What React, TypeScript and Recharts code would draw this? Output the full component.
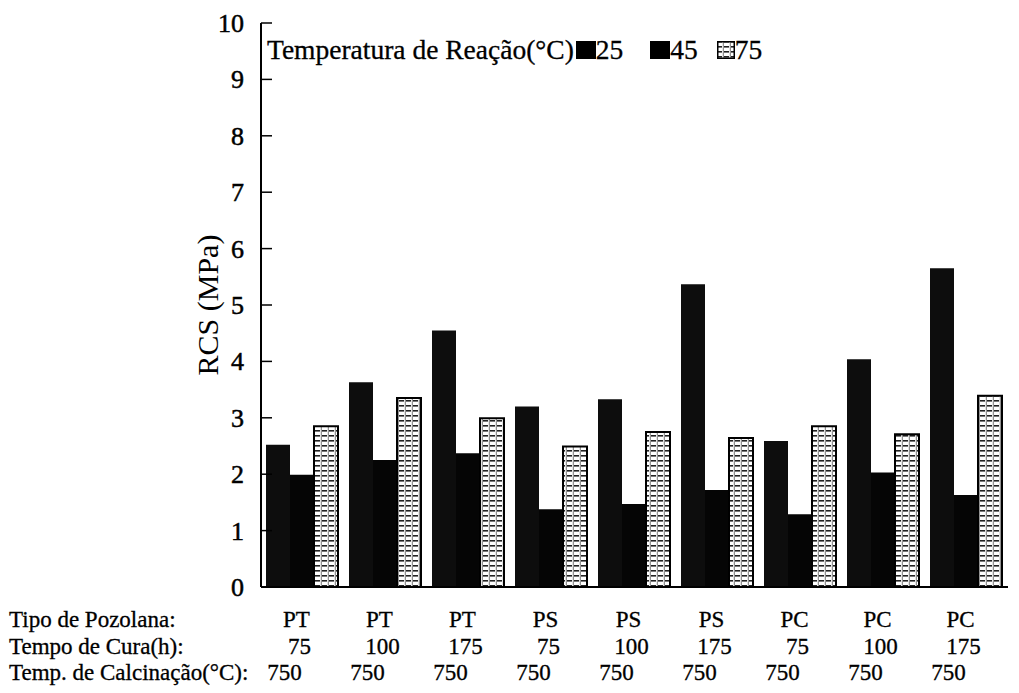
import React from 'react';
import { BarChart, Bar, XAxis, YAxis } from 'recharts';

const pozolanaTypes = ['PT', 'PT', 'PT', 'PS', 'PS', 'PS', 'PC', 'PC', 'PC'];
const cureTimes = ['75', '100', '175', '75', '100', '175', '75', '100', '175'];
const calcTemps = ['750', '750', '750', '750', '750', '750', '750', '750', '750'];
const rcs25 = [2.52, 3.63, 4.55, 3.2, 3.33, 5.37, 2.59, 4.04, 5.65];
const rcs45 = [1.99, 2.25, 2.37, 1.38, 1.47, 1.72, 1.29, 2.03, 1.63];
const rcs75 = [2.85, 3.35, 2.99, 2.49, 2.75, 2.64, 2.85, 2.71, 3.39];
const yTicks = [0, 1, 2, 3, 4, 5, 6, 7, 8, 9, 10];
const rowTitles = ['Tipo de Pozolana:', 'Tempo de Cura(h):', 'Temp. de Calcinação(°C):'];
const legendTitle = 'Temperatura de Reação(°C)';
const seriesNames = ['25', '45', '75'];
const yLabel = 'RCS (MPa)';

const data = pozolanaTypes.map((p, i) => ({
  key: 'g' + i,
  r25: rcs25[i],
  r45: rcs45[i],
  r75: rcs75[i],
}));

const FONT = '"Liberation Serif", "Times New Roman", serif';

const XTick = (props: any) => {
  const { x, y, index } = props;
  const rows = [pozolanaTypes[index], cureTimes[index], calcTemps[index]];
  const offs = [-6, -3, -18];
  const dys = [40, 67, 93];
  return (
    <g fontFamily={FONT} fontSize={23} fill="#000" stroke="#000" strokeWidth={0.3}>
      {rows.map((r, k) => (
        <text key={k} x={x + offs[k]} y={y + dys[k]} textAnchor="middle">
          {r}
        </text>
      ))}
      {index === 0 &&
        rowTitles.map((t, k) => (
          <text key={'t' + k} x={9} y={y + dys[k]} textAnchor="start">
            {t}
          </text>
        ))}
    </g>
  );
};

const YTick = (props: any) => {
  const { x, y, payload } = props;
  return (
    <g>
      <line x1={x} x2={x + 11} y1={y} y2={y} stroke="#000" strokeWidth={1.5} />
      <text
        x={x - 17}
        y={y + 9}
        textAnchor="end"
        fontFamily={FONT}
        fontSize={26}
        fill="#000"
        stroke="#000"
        strokeWidth={0.5}
      >
        {payload.value}
      </text>
    </g>
  );
};

const Swatch = ({ hatch }: { hatch: boolean }) => (
  <svg
    width={hatch ? 18 : 20}
    height={18}
    style={{ display: 'inline-block', verticalAlign: 'baseline', margin: '0 0 0 2px' }}
  >
    {hatch ? (
      <rect x={0.75} y={0.75} width={16.5} height={16.5} fill="url(#hatch75)" stroke="#000" strokeWidth={1.5} />
    ) : (
      <rect x={0} y={0} width={20} height={18} fill="#000" />
    )}
  </svg>
);

export default function App() {
  return (
    <div style={{ position: 'absolute', left: 0, top: 0, width: 1019, height: 693, background: '#fff' }}>
      <BarChart
        width={1019}
        height={693}
        data={data}
        margin={{ top: 23, right: 11, left: 201, bottom: 6 }}
        barCategoryGap={5}
        barGap={0}
      >
        <defs>
          <pattern id="hatch75" patternUnits="userSpaceOnUse" width={7} height={5}>
            <rect x={0} y={0} width={7} height={5} fill="#fff" />
            <rect x={0} y={0} width={5} height={1.6} fill="#222" />
            <rect x={5.8} y={0} width={1} height={5} fill="#777" />
          </pattern>
        </defs>
        <XAxis
          dataKey="key"
          xAxisId="b"
          height={100}
          tickSize={0}
          tickMargin={0}
          tick={<XTick />}
          interval={0}
          axisLine={{ stroke: '#000', strokeWidth: 2 }}
          tickLine={false}
        />
        <XAxis
          dataKey="key"
          xAxisId="t"
          orientation="top"
          height={0}
          tick={false}
          tickLine={false}
          axisLine={{ stroke: '#000', strokeWidth: 2 }}
        />
        <YAxis
          yAxisId="l"
          domain={[0, 10]}
          ticks={yTicks}
          interval={0}
          width={60}
          tickSize={0}
          tickMargin={0}
          tick={<YTick />}
          tickLine={false}
          axisLine={{ stroke: '#000', strokeWidth: 2 }}
          label={{
            value: yLabel,
            angle: -90,
            position: 'insideLeft',
            offset: 6,
            style: { fontFamily: FONT, fontSize: 30, fill: '#000', textAnchor: 'middle' },
          }}
        />
        <YAxis
          yAxisId="r"
          orientation="right"
          domain={[0, 10]}
          width={0}
          tick={false}
          tickLine={false}
          axisLine={{ stroke: '#000', strokeWidth: 2 }}
        />
        <Bar dataKey="r25" name={seriesNames[0]} xAxisId="b" yAxisId="l" fill="#0d0d0d" isAnimationActive={false} />
        <Bar dataKey="r45" name={seriesNames[1]} xAxisId="b" yAxisId="l" fill="#050505" isAnimationActive={false} />
        <Bar
          dataKey="r75"
          name={seriesNames[2]}
          xAxisId="b"
          yAxisId="l"
          fill="url(#hatch75)"
          stroke="#000"
          strokeWidth={2}
          isAnimationActive={false}
        />
      </BarChart>
      <div
        style={{
          position: 'absolute',
          left: 267,
          top: 36,
          fontFamily: FONT,
          fontSize: 27.5,
          lineHeight: '27px',
          color: '#000',
          whiteSpace: 'nowrap',
          WebkitTextStroke: '0.3px #000',
        }}
      >
        <span>{legendTitle}</span>
        <Swatch hatch={false} />
        <span style={{ marginRight: 25 }}>{seriesNames[0]}</span>
        <Swatch hatch={false} />
        <span style={{ marginRight: 17 }}>{seriesNames[1]}</span>
        <Swatch hatch={true} />
        <span>{seriesNames[2]}</span>
      </div>
    </div>
  );
}
